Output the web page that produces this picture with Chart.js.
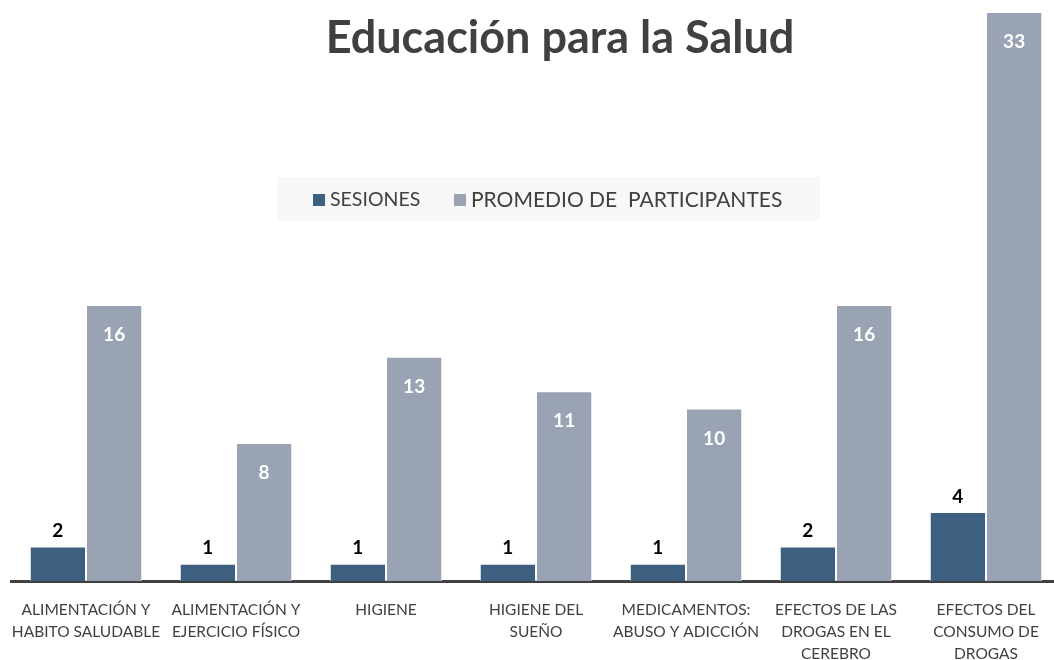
<!DOCTYPE html>
<html>
<head>
<meta charset="utf-8">
<script src="https://cdn.jsdelivr.net/npm/chart.js@4.4.1/dist/chart.umd.min.js"></script>
<style>
  body { margin: 0; background: #fff; overflow: hidden; }
  #wrap { width: 1054px; height: 660px; overflow: hidden; position: relative; }
  #myChart { position: absolute; left: 0; top: 0; }
</style>
</head>
<body>
<div id="wrap"><canvas id="myChart" width="1064" height="660"></canvas></div>
<script>
// datos del gráfico
const categorias = [
  ["ALIMENTACIÓN Y", "HABITO SALUDABLE"],
  ["ALIMENTACIÓN Y", "EJERCICIO FÍSICO"],
  ["HIGIENE"],
  ["HIGIENE DEL", "SUEÑO"],
  ["MEDICAMENTOS:", "ABUSO Y ADICCIÓN"],
  ["EFECTOS DE LAS", "DROGAS EN EL", "CEREBRO"],
  ["EFECTOS DEL", "CONSUMO DE", "DROGAS"],
];
const sesiones = [2, 1, 1, 1, 1, 2, 4];
const promedio = [16, 8, 13, 11, 10, 16, 33];
const titulo = "Educación para la Salud";

const FONT = "Lato, 'Open Sans', sans-serif";

// titulo, leyenda y etiquetas de datos dibujados sobre el canvas
const extras = {
  id: "extras",
  afterDatasetsDraw(chart) {
    const ctx = chart.ctx;
    ctx.save();
    // etiquetas
    chart.data.datasets.forEach((ds, i) => {
      chart.getDatasetMeta(i).data.forEach((bar, j) => {
        ctx.font = "bold 19px " + FONT;
        ctx.textAlign = "center";
        if (i === 0) {
          ctx.fillStyle = "#000";
          ctx.textBaseline = "bottom";
          ctx.fillText(ds.data[j], bar.x, bar.y - 6);
        } else {
          ctx.fillStyle = "#fff";
          ctx.textBaseline = "middle";
          ctx.fillText(ds.data[j], bar.x, bar.y + 30);
        }
      });
    });

    // titulo
    ctx.font = "bold 45px " + FONT;
    ctx.fillStyle = "#404040";
    ctx.textAlign = "center";
    ctx.textBaseline = "alphabetic";
    ctx.fillText(titulo, 560, 53);

    // leyenda
    ctx.fillStyle = "#f8f8f8";
    ctx.fillRect(277, 177, 543, 44);
    ctx.textAlign = "left";
    ctx.textBaseline = "middle";
    let x = 313;
    chart.data.datasets.forEach((ds, i) => {
      ctx.font = (i === 0 ? "19.5px " : "21px ") + FONT;
      ctx.fillStyle = ds.backgroundColor;
      ctx.fillRect(x, 194, 12, 12);
      ctx.fillStyle = "#404040";
      ctx.fillText(ds.label, x + 17, 200);
      x = 454;
    });
    ctx.restore();
  },
};

var ctx = document.getElementById("myChart").getContext("2d");
var myChart = new Chart(ctx, {
  type: "bar",
  data: {
    labels: categorias,
    datasets: [
      {
        label: "SESIONES",
        data: sesiones,
        backgroundColor: "#3d5f80",
        borderColor: "rgba(255,255,255,0.7)",
        borderWidth: 1,
      },
      {
        label: "PROMEDIO DE  PARTICIPANTES",
        data: promedio,
        backgroundColor: "#9aa3b3",
        borderColor: "rgba(255,255,255,0.7)",
        borderWidth: 1,
      },
    ],
  },
  options: {
    responsive: false,
    animation: false,
    layout: { padding: { left: 11, right: 3, top: 12, bottom: 0 } },
    datasets: { bar: { categoryPercentage: 0.75, barPercentage: 1 } },
    plugins: {
      legend: { display: false },
      title: { display: false },
      tooltip: { enabled: false },
    },
    scales: {
      x: {
        grid: { display: false },
        border: { display: true, color: "#404040", width: 3 },
        ticks: {
          color: "#404040",
          font: { family: FONT, size: 15.5, lineHeight: 1.42 },
          padding: 10,
          maxRotation: 0,
          autoSkip: false,
        },
        afterFit(scale) { scale.height = 79; },
      },
      y: {
        display: false,
        min: 0,
        max: 33,
      },
    },
  },
  plugins: [extras],
});
</script>
</body>
</html>
